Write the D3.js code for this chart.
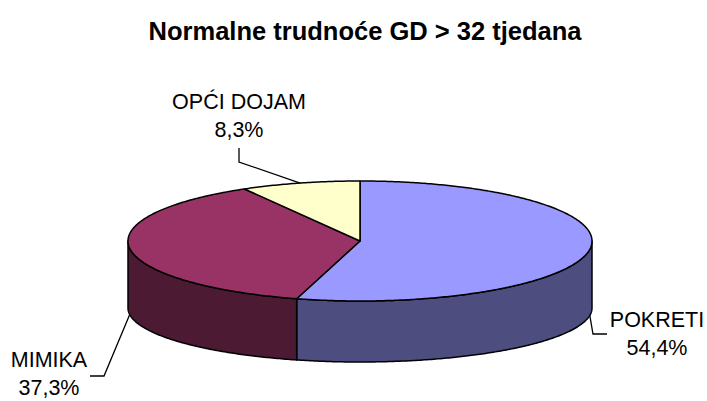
<!DOCTYPE html>
<html>
<head>
<meta charset="utf-8">
<script src="https://cdn.jsdelivr.net/npm/d3@7"></script>
<style>
  html, body { margin: 0; padding: 0; background: #fff; }
  svg { display: block; font-family: "Liberation Sans", Arial, sans-serif; }
</style>
</head>
<body>
<svg id="chart" width="707" height="401"></svg>
<script>
// data
const titleText = 'Normalne trudnoće GD > 32 tjedana';
const categories = ['POKRETI', 'MIMIKA', 'OPĆI DOJAM'];
const shares = [54.4, 37.3, 8.3];
const topColors = ['#9999ff', '#993366', '#ffffcc'];
const sideColors = ['#4d4d80', '#4d1a33', '#808066'];

const svg = d3.select('#chart');

// ellipse geometry of the tilted pie (top face and bottom rim)
const cx = 360, rx = 232;
const topCy = 241, topRy = 60;
const botCy = 308, botRy = 54;

const x = d3.scaleLinear().domain([-1, 1]).range([cx - rx, cx + rx]);
const yTop = d3.scaleLinear().domain([-1, 1]).range([topCy - topRy, topCy + topRy]);
const yBot = d3.scaleLinear().domain([-1, 1]).range([botCy - botRy, botCy + botRy]);

// angle measured clockwise from 12 o'clock, like d3.pie
const topPt = a => [x(Math.sin(a)), yTop(-Math.cos(a))];
const botPt = a => [x(Math.sin(a)), yBot(-Math.cos(a))];

const arcs = d3.pie().sort(null).value(d => d)(shares);
const line = d3.line();

function samples(a0, a1) {
  const n = Math.max(2, Math.ceil((a1 - a0) / 0.01));
  return d3.range(n + 1).map(i => a0 + (a1 - a0) * i / n);
}

// side walls (only the part facing the viewer)
arcs.forEach((d, i) => {
  const a0 = Math.max(d.startAngle, Math.PI / 2);
  const a1 = Math.min(d.endAngle, Math.PI * 1.5);
  if (a1 <= a0) return;
  const s = samples(a0, a1);
  const pts = s.map(topPt).concat(s.slice().reverse().map(botPt));
  svg.append('path')
    .attr('d', line(pts) + 'Z')
    .attr('fill', sideColors[i])
    .attr('stroke', '#000')
    .attr('stroke-width', 1.5)
    .attr('stroke-linejoin', 'round');
});

// top face slices
arcs.forEach((d, i) => {
  const pts = [[cx, topCy]].concat(samples(d.startAngle, d.endAngle).map(topPt));
  svg.append('path')
    .attr('d', line(pts) + 'Z')
    .attr('fill', topColors[i])
    .attr('stroke', '#000')
    .attr('stroke-width', 1.5)
    .attr('stroke-linejoin', 'round');
});

// title
svg.append('text')
  .attr('x', 365).attr('y', 40)
  .attr('text-anchor', 'middle')
  .attr('font-size', 25.5)
  .attr('font-weight', 'bold')
  .text(titleText);

// labels with leader lines
const fmt = v => d3.format('.1f')(v).replace('.', ',') + '%';
const labelLayout = [
  { anchor: d => botPt((d.startAngle + d.endAngle) / 2), elbow: [[593, 334], [607, 334]], tx: 657, ty: 327 },
  { anchor: d => botPt((d.startAngle + d.endAngle) / 2), elbow: [[104, 376], [90, 376]], tx: 49, ty: 367 },
  { anchor: d => topPt((d.startAngle + d.endAngle) / 2), elbow: [[239, 162], [239, 148]], tx: 239, ty: 109 }
];

arcs.forEach((d, i) => {
  const L = labelLayout[i];
  svg.append('path')
    .attr('d', line([L.anchor(d)].concat(L.elbow)))
    .attr('fill', 'none')
    .attr('stroke', '#000')
    .attr('stroke-width', 1.3);
  const t = svg.append('text')
    .attr('x', L.tx).attr('y', L.ty)
    .attr('text-anchor', 'middle')
    .attr('font-size', 21.5)
    .attr('fill', '#000');
  t.append('tspan').attr('x', L.tx).text(categories[i]);
  t.append('tspan').attr('x', L.tx).attr('dy', 28).text(fmt(shares[i]));
});
</script>
</body>
</html>
